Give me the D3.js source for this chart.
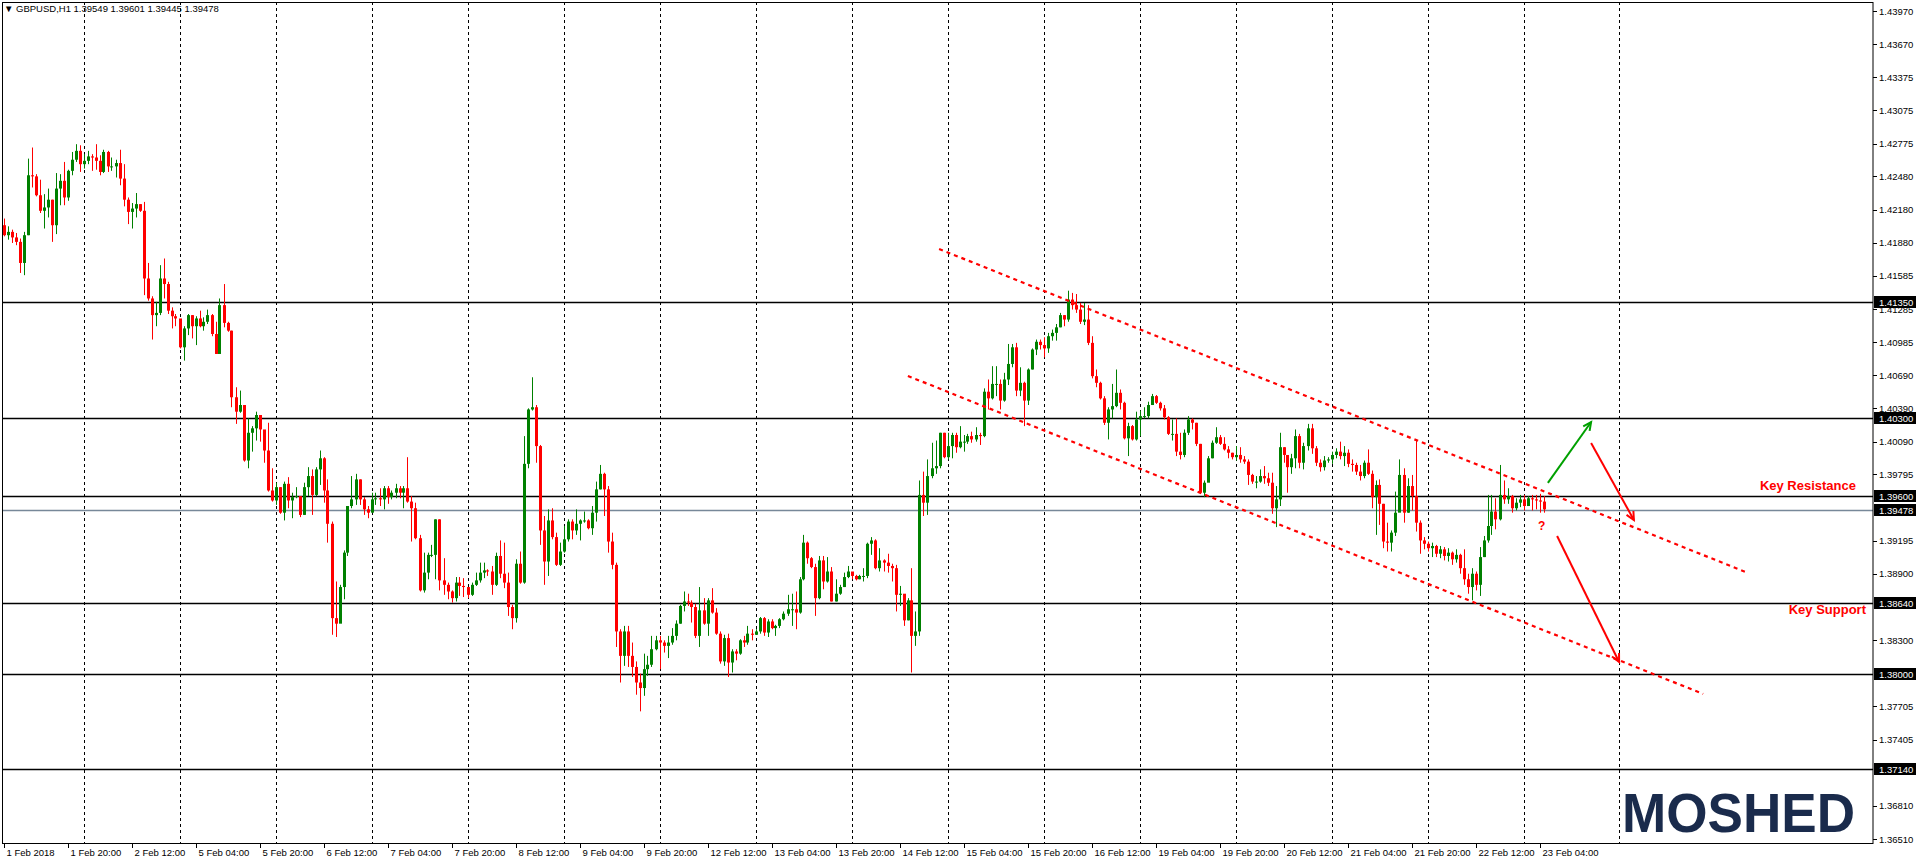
<!DOCTYPE html>
<html><head><meta charset="utf-8">
<script src="https://cdn.jsdelivr.net/npm/d3@7"></script>
<style>html,body{margin:0;padding:0;background:#fff;overflow:hidden}svg{display:block}</style>
</head><body>
<svg id="c" width="1916" height="860"></svg>
<script>
const firstOpen = 1.4204;
const closes = [
1.4195,1.4198,1.4193,1.4189,1.4170,1.4195,1.4249,1.4248,1.4231,1.4217,
1.4220,1.4227,1.4204,1.4237,1.4244,1.4229,1.4253,1.4263,1.4271,1.4259,
1.4262,1.4266,1.4265,1.4262,1.4252,1.4270,1.4257,1.4257,1.4260,1.4246,
1.4227,1.4216,1.4219,1.4223,1.4217,1.4156,1.4138,1.4123,1.4125,1.4156,
1.4151,1.4127,1.4122,1.4120,1.4094,1.4111,1.4123,1.4113,1.4120,1.4113,
1.4117,1.4123,1.4106,1.4088,1.4132,1.4116,1.4109,1.4049,1.4036,1.4042,
1.3992,1.4017,1.4021,1.4033,1.4020,1.4001,1.3965,1.3956,1.3968,1.3945,
1.3971,1.3956,1.3959,1.3960,1.3943,1.3968,1.3978,1.3961,1.3984,1.3994,
1.3965,1.3935,1.3850,1.3845,1.3878,1.3909,1.3951,1.3957,1.3975,1.3957,
1.3948,1.3945,1.3957,1.3958,1.3957,1.3967,1.3959,1.3963,1.3967,1.3963,
1.3967,1.3955,1.3949,1.3922,1.3875,1.3891,1.3907,1.3907,1.3939,1.3884,
1.3880,1.3874,1.3868,1.3882,1.3879,1.3878,1.3871,1.3880,1.3884,1.3891,
1.3893,1.3892,1.3880,1.3906,1.3890,1.3882,1.3860,1.3850,1.3899,1.3882,
1.3989,1.4038,1.4040,1.4005,1.3929,1.3901,1.3938,1.3923,1.3898,1.3910,
1.3921,1.3937,1.3929,1.3935,1.3938,1.3938,1.3931,1.3945,1.3966,1.3980,
1.3966,1.3919,1.3898,1.3838,1.3816,1.3838,1.3816,1.3806,1.3792,1.3787,
1.3804,1.3808,1.3822,1.3830,1.3828,1.3825,1.3828,1.3834,1.3845,1.3861,
1.3865,1.3864,1.3860,1.3834,1.3857,1.3845,1.3866,1.3855,1.3836,1.3811,
1.3832,1.3810,1.3820,1.3818,1.3830,1.3828,1.3836,1.3835,1.3838,1.3850,
1.3837,1.3847,1.3841,1.3843,1.3849,1.3854,1.3858,1.3858,1.3855,1.3885,
1.3918,1.3904,1.3896,1.3868,1.3902,1.3883,1.3892,1.3865,1.3872,1.3878,
1.3887,1.3892,1.3888,1.3885,1.3888,1.3888,1.3917,1.3920,1.3895,1.3902,
1.3900,1.3897,1.3895,1.3871,1.3872,1.3848,1.3866,1.3834,1.3838,1.3961,
1.3954,1.3978,1.3985,1.3987,1.4017,1.3995,1.4005,1.4015,1.4004,1.4009,
1.4009,1.4014,1.4011,1.4015,1.4014,1.4054,1.4048,1.4061,1.4061,1.4046,
1.4065,1.4079,1.4094,1.4055,1.4062,1.4046,1.4074,1.4092,1.4099,1.4096,
1.4093,1.4104,1.4107,1.4112,1.4123,1.4119,1.4137,1.4132,1.4128,1.4117,
1.4119,1.4098,1.4068,1.4062,1.4048,1.4026,1.4038,1.4041,1.4053,1.4044,
1.4012,1.4023,1.4011,1.4029,1.4032,1.4032,1.4042,1.4050,1.4044,1.4039,
1.4031,1.4016,1.4016,1.4000,1.3997,1.4017,1.4029,1.4026,1.4007,1.3963,
1.3972,1.3994,1.4008,1.4013,1.4007,1.4002,1.3999,1.3995,1.3997,1.3993,
1.3991,1.3979,1.3973,1.3973,1.3978,1.3976,1.3972,1.3949,1.3957,1.4004,
1.3997,1.3986,1.3994,1.4014,1.3990,1.4005,1.4021,1.4003,1.3990,1.3986,
1.3992,1.3993,1.3997,1.4000,1.3996,1.3999,1.3989,1.3988,1.3982,1.3978,
1.3990,1.3980,1.3959,1.3970,1.3953,1.3919,1.3918,1.3927,1.3945,1.3979,
1.3945,1.3969,1.3960,1.3936,1.3920,1.3917,1.3913,1.3915,1.3908,1.3912,
1.3906,1.3909,1.3903,1.3907,1.3895,1.3885,1.3878,1.3890,1.3880,1.3905,
1.3920,1.3933,1.3946,1.3939,1.3961,1.3957,1.3960,1.3949,1.3954,1.3957,
1.3951,1.3958,1.3957,1.3956,1.3955,1.3948];
const highs = [
1.4210,1.4203,1.4200,1.4197,1.4192,1.4198,1.4264,1.4274,1.4250,1.4245,
1.4232,1.4237,1.4227,1.4251,1.4250,1.4261,1.4254,1.4270,1.4277,1.4276,
1.4268,1.4271,1.4268,1.4277,1.4267,1.4272,1.4271,1.4265,1.4263,1.4272,
1.4259,1.4229,1.4224,1.4233,1.4223,1.4225,1.4170,1.4140,1.4135,1.4168,
1.4174,1.4153,1.4130,1.4124,1.4111,1.4113,1.4124,1.4123,1.4122,1.4127,
1.4121,1.4128,1.4124,1.4117,1.4138,1.4151,1.4117,1.4109,1.4058,1.4055,
1.4042,1.4030,1.4023,1.4036,1.4033,1.4019,1.4026,1.3985,1.3972,1.3968,
1.3973,1.3977,1.3963,1.3968,1.3960,1.3972,1.3986,1.3984,1.3986,1.4001,
1.3995,1.3975,1.3937,1.3883,1.3880,1.3911,1.3951,1.3978,1.3980,1.3975,
1.3959,1.3951,1.3963,1.3963,1.3967,1.3969,1.3969,1.3965,1.3971,1.3969,
1.3969,1.3995,1.3960,1.3954,1.3925,1.3909,1.3909,1.3916,1.3939,1.3939,
1.3904,1.3882,1.3875,1.3887,1.3887,1.3886,1.3877,1.3882,1.3891,1.3900,
1.3900,1.3894,1.3897,1.3909,1.3920,1.3918,1.3891,1.3862,1.3903,1.3910,
1.4014,1.4039,1.4067,1.4042,1.4006,1.3942,1.3948,1.3949,1.3927,1.3918,
1.3933,1.3939,1.3939,1.3948,1.3939,1.3946,1.3939,1.3951,1.3973,1.3988,
1.3981,1.3969,1.3927,1.3900,1.3840,1.3843,1.3843,1.3828,1.3811,1.3800,
1.3818,1.3816,1.3834,1.3834,1.3834,1.3830,1.3834,1.3841,1.3848,1.3862,
1.3874,1.3872,1.3866,1.3863,1.3878,1.3868,1.3868,1.3877,1.3859,1.3838,
1.3835,1.3836,1.3822,1.3822,1.3831,1.3834,1.3843,1.3840,1.3840,1.3851,
1.3851,1.3849,1.3849,1.3844,1.3850,1.3856,1.3871,1.3872,1.3874,1.3887,
1.3925,1.3919,1.3905,1.3899,1.3906,1.3906,1.3905,1.3896,1.3885,1.3880,
1.3891,1.3897,1.3891,1.3889,1.3889,1.3895,1.3918,1.3923,1.3921,1.3913,
1.3903,1.3908,1.3899,1.3898,1.3879,1.3866,1.3868,1.3895,1.3856,1.3974,
1.3982,1.3993,1.4008,1.4010,1.4017,1.4017,1.4017,1.4017,1.4017,1.4023,
1.4015,1.4016,1.4018,1.4022,1.4017,1.4057,1.4065,1.4077,1.4077,1.4065,
1.4071,1.4097,1.4097,1.4098,1.4076,1.4063,1.4075,1.4093,1.4101,1.4101,
1.4103,1.4107,1.4110,1.4115,1.4125,1.4123,1.4145,1.4143,1.4142,1.4134,
1.4134,1.4132,1.4104,1.4074,1.4063,1.4050,1.4040,1.4061,1.4074,1.4056,
1.4045,1.4026,1.4024,1.4036,1.4037,1.4040,1.4045,1.4052,1.4051,1.4045,
1.4042,1.4032,1.4029,1.4030,1.4017,1.4020,1.4032,1.4030,1.4026,1.4007,
1.3974,1.3996,1.4010,1.4022,1.4015,1.4013,1.4005,1.3999,1.4005,1.4004,
1.3996,1.3993,1.3980,1.3978,1.3984,1.3987,1.3981,1.3981,1.3969,1.4017,
1.4004,1.3993,1.3998,1.4020,1.4016,1.4008,1.4025,1.4025,1.4005,1.3993,
1.3996,1.3995,1.4000,1.4003,1.4009,1.4005,1.4002,1.3993,1.3990,1.3988,
1.3992,1.4002,1.3983,1.3974,1.3975,1.3953,1.3936,1.3929,1.3964,1.3993,
1.3985,1.3976,1.3979,1.4010,1.3938,1.3923,1.3919,1.3918,1.3916,1.3915,
1.3914,1.3913,1.3910,1.3912,1.3908,1.3912,1.3890,1.3895,1.3892,1.3914,
1.3924,1.3961,1.3961,1.3958,1.3988,1.3974,1.3967,1.3961,1.3958,1.3961,
1.3961,1.3960,1.3961,1.3961,1.3962,1.3960];
const lows = [
1.4194,1.4191,1.4188,1.4186,1.4161,1.4159,1.4195,1.4238,1.4230,1.4215,
1.4201,1.4211,1.4189,1.4196,1.4222,1.4222,1.4226,1.4249,1.4261,1.4252,
1.4255,1.4259,1.4253,1.4254,1.4249,1.4251,1.4252,1.4253,1.4247,1.4240,
1.4221,1.4205,1.4201,1.4211,1.4216,1.4141,1.4136,1.4101,1.4113,1.4123,
1.4138,1.4124,1.4111,1.4113,1.4093,1.4082,1.4105,1.4102,1.4096,1.4112,
1.4109,1.4115,1.4104,1.4088,1.4089,1.4112,1.4108,1.4040,1.4025,1.4035,
1.3991,1.3985,1.4000,1.4010,1.4009,1.3990,1.3964,1.3955,1.3952,1.3944,
1.3938,1.3949,1.3940,1.3958,1.3941,1.3943,1.3960,1.3943,1.3960,1.3970,
1.3954,1.3918,1.3835,1.3833,1.3850,1.3867,1.3906,1.3949,1.3952,1.3952,
1.3943,1.3940,1.3945,1.3952,1.3951,1.3948,1.3953,1.3957,1.3958,1.3958,
1.3949,1.3954,1.3919,1.3921,1.3874,1.3873,1.3885,1.3905,1.3885,1.3875,
1.3871,1.3867,1.3864,1.3865,1.3870,1.3869,1.3868,1.3870,1.3879,1.3882,
1.3886,1.3888,1.3871,1.3879,1.3886,1.3877,1.3852,1.3840,1.3846,1.3881,
1.3881,1.3985,1.4037,1.3990,1.3916,1.3880,1.3888,1.3921,1.3897,1.3897,
1.3909,1.3919,1.3921,1.3925,1.3920,1.3936,1.3930,1.3925,1.3937,1.3966,
1.3942,1.3909,1.3894,1.3824,1.3792,1.3807,1.3806,1.3797,1.3781,1.3766,
1.3780,1.3798,1.3806,1.3821,1.3804,1.3819,1.3814,1.3826,1.3830,1.3845,
1.3856,1.3861,1.3846,1.3832,1.3824,1.3844,1.3834,1.3854,1.3835,1.3809,
1.3807,1.3797,1.3801,1.3812,1.3817,1.3824,1.3826,1.3830,1.3835,1.3836,
1.3834,1.3833,1.3840,1.3834,1.3841,1.3848,1.3852,1.3843,1.3840,1.3854,
1.3884,1.3899,1.3895,1.3852,1.3867,1.3876,1.3882,1.3865,1.3865,1.3871,
1.3878,1.3886,1.3885,1.3884,1.3885,1.3883,1.3886,1.3907,1.3894,1.3892,
1.3892,1.3891,1.3883,1.3856,1.3861,1.3843,1.3848,1.3801,1.3825,1.3834,
1.3942,1.3943,1.3976,1.3980,1.3985,1.3994,1.3993,1.3994,1.3999,1.4003,
1.4000,1.4007,1.4008,1.4009,1.4006,1.4013,1.4038,1.4047,1.4050,1.4038,
1.4045,1.4060,1.4076,1.4050,1.4050,1.4023,1.4042,1.4074,1.4087,1.4092,
1.4085,1.4089,1.4100,1.4100,1.4112,1.4113,1.4117,1.4128,1.4125,1.4115,
1.4114,1.4096,1.4066,1.4058,1.4047,1.4024,1.4011,1.4030,1.4040,1.4038,
1.4011,1.3996,1.4010,1.4010,1.4014,1.4030,1.4030,1.4042,1.4043,1.4037,
1.4029,1.4015,1.4010,1.3996,1.3993,1.3995,1.4015,1.4020,1.4005,1.3962,
1.3959,1.3986,1.3994,1.4007,1.4006,1.4001,1.3994,1.3993,1.3992,1.3990,
1.3989,1.3970,1.3971,1.3967,1.3972,1.3971,1.3969,1.3944,1.3932,1.3951,
1.3990,1.3963,1.3980,1.3985,1.3985,1.3984,1.4001,1.3998,1.3987,1.3982,
1.3983,1.3990,1.3989,1.3994,1.3993,1.3987,1.3986,1.3982,1.3979,1.3974,
1.3976,1.3979,1.3949,1.3925,1.3934,1.3913,1.3910,1.3910,1.3924,1.3947,
1.3936,1.3945,1.3947,1.3928,1.3908,1.3912,1.3910,1.3905,1.3905,1.3904,
1.3902,1.3901,1.3898,1.3900,1.3890,1.3880,1.3872,1.3866,1.3875,1.3870,
1.3905,1.3918,1.3925,1.3930,1.3938,1.3953,1.3953,1.3945,1.3947,1.3950,
1.3947,1.3952,1.3947,1.3948,1.3945,1.3945];
const timeLabels = ["1 Feb 2018","1 Feb 20:00","2 Feb 12:00","5 Feb 04:00","5 Feb 20:00","6 Feb 12:00","7 Feb 04:00","7 Feb 20:00","8 Feb 12:00","9 Feb 04:00","9 Feb 20:00","12 Feb 12:00","13 Feb 04:00","13 Feb 20:00","14 Feb 12:00","15 Feb 04:00","15 Feb 20:00","16 Feb 12:00","19 Feb 04:00","19 Feb 20:00","20 Feb 12:00","21 Feb 04:00","21 Feb 20:00","22 Feb 12:00","23 Feb 04:00"];
const priceTicks = [1.43970,1.43670,1.43375,1.43075,1.42775,1.42480,1.42180,1.41880,1.41585,1.41285,1.40985,1.40690,1.40390,1.40090,1.39795,1.39195,1.38900,1.38300,1.37705,1.37405,1.36810,1.36510];
const levels = [1.41350,1.40300,1.39600,1.38640,1.38000,1.37140];
const bidPrice = 1.39478;
const upperChannel = [[233.9,1.41826],[436.1,1.38907]];
const lowerChannel = [[226.1,1.40682],[424.9,1.37817]];
const greenArrow = [[386.1,1.39718],[396.9,1.40267]];
const redArrows = [[[396.9,1.40078],[407.6,1.39384]],[[388.4,1.39240],[403.9,1.38105]]];
const questionMark = [383.6,1.39331];

const svg = d3.select("#c");
const W = 1916, H = 860, axisX = 1873, plotTop = 2, plotBottom = 843;
const x = d3.scaleLinear().domain([0,385]).range([3.5,1543.5]);
const y = d3.scaleLinear().domain([1.4397,1.3651]).range([11,839]);
const F = "'Liberation Sans', Arial, sans-serif";
const FS = 9.5;

const gridIdx = d3.range(20, 405, 24);
svg.append("g").selectAll("line").data(gridIdx).join("line")
  .attr("x1",d=>Math.round(x(d))+0.5).attr("x2",d=>Math.round(x(d))+0.5)
  .attr("y1",plotTop).attr("y2",plotBottom)
  .attr("stroke","#000").attr("stroke-width",1).attr("stroke-dasharray","3,3");

svg.append("g").selectAll("line").data(levels).join("line")
  .attr("x1",2).attr("x2",axisX).attr("y1",d=>Math.round(y(d))+0.5).attr("y2",d=>Math.round(y(d))+0.5)
  .attr("stroke","#000").attr("stroke-width",1.3);
svg.append("line").attr("x1",2).attr("x2",axisX)
  .attr("y1",Math.round(y(bidPrice))+0.5).attr("y2",Math.round(y(bidPrice))+0.5)
  .attr("stroke","#778899").attr("stroke-width",1.3);

const data = closes.map((c,i)=>({i,o:i===0?firstOpen:closes[i-1],c,h:highs[i],l:lows[i]}));
const cg = svg.append("g");
cg.selectAll("line").data(data).join("line")
  .attr("x1",d=>Math.round(x(d.i))+0.5).attr("x2",d=>Math.round(x(d.i))+0.5)
  .attr("y1",d=>y(d.h)).attr("y2",d=>y(d.l))
  .attr("stroke",d=>d.c>=d.o?"#008000":"#ff0000").attr("stroke-width",1);
cg.selectAll("rect").data(data).join("rect")
  .attr("x",d=>Math.round(x(d.i))-1).attr("width",3)
  .attr("y",d=>y(Math.max(d.o,d.c))).attr("height",d=>Math.max(1,Math.abs(y(d.o)-y(d.c))))
  .attr("fill",d=>d.c>=d.o?"#008000":"#ff0000");

[upperChannel,lowerChannel].forEach(seg=>{
  svg.append("line").attr("x1",x(seg[0][0])).attr("y1",y(seg[0][1]))
    .attr("x2",x(seg[1][0])).attr("y2",y(seg[1][1]))
    .attr("stroke","#ff0000").attr("stroke-width",2.2).attr("stroke-dasharray","4,4");
});

function arrow(seg,color){
  const x1=x(seg[0][0]),y1=y(seg[0][1]),x2=x(seg[1][0]),y2=y(seg[1][1]);
  svg.append("line").attr("x1",x1).attr("y1",y1).attr("x2",x2).attr("y2",y2)
    .attr("stroke",color).attr("stroke-width",2);
  const a=Math.atan2(y2-y1,x2-x1), L=9, s=0.45;
  const p1=[x2-L*Math.cos(a-s),y2-L*Math.sin(a-s)], p2=[x2-L*Math.cos(a+s),y2-L*Math.sin(a+s)];
  svg.append("path").attr("d",`M${p1}L${x2},${y2}L${p2}`).attr("fill","none")
    .attr("stroke",color).attr("stroke-width",2);
}
arrow(greenArrow,"#00a000");
redArrows.forEach(s=>arrow(s,"#ff0000"));
svg.append("text").attr("x",x(questionMark[0])).attr("y",y(questionMark[1])+4)
  .attr("font-family",F).attr("font-weight","bold").attr("font-size",12).attr("fill","#ff0000").text("?");

svg.append("text").attr("x",1856).attr("y",490).attr("text-anchor","end")
  .attr("font-family",F).attr("font-weight","bold").attr("font-size",13).attr("fill","#ff0000").text("Key Resistance");
svg.append("text").attr("x",1866).attr("y",614).attr("text-anchor","end")
  .attr("font-family",F).attr("font-weight","bold").attr("font-size",13).attr("fill","#ff0000").text("Key Support");

svg.append("text").attr("x",1622).attr("y",832)
  .attr("font-family",F).attr("font-weight","bold")
  .attr("font-size",56).attr("fill","#1a2b4c")
  .attr("textLength",233).attr("lengthAdjust","spacingAndGlyphs").text("MOSHED");

svg.append("rect").attr("x",2.5).attr("y",plotTop+0.5).attr("width",axisX-2.5).attr("height",plotBottom-plotTop)
  .attr("fill","none").attr("stroke","#000").attr("stroke-width",1);

const pa = svg.append("g");
pa.selectAll("line").data(priceTicks).join("line")
  .attr("x1",axisX).attr("x2",axisX+4).attr("y1",d=>Math.round(y(d))+0.5).attr("y2",d=>Math.round(y(d))+0.5).attr("stroke","#000");
pa.selectAll("text").data(priceTicks).join("text")
  .attr("x",axisX+6).attr("y",d=>y(d)+3.5).attr("font-family",F).attr("font-size",FS).attr("fill","#000")
  .text(d=>d.toFixed(5));
levels.concat([bidPrice]).forEach(v=>{
  const yy=Math.round(y(v));
  pa.append("rect").attr("x",axisX+1).attr("y",yy-6).attr("width",W-axisX-1).attr("height",12).attr("fill","#000");
  pa.append("text").attr("x",axisX+6).attr("y",yy+3.5).attr("font-family",F).attr("font-size",FS).attr("fill","#fff").text(v.toFixed(5));
});

const ta = svg.append("g");
ta.selectAll("line").data(timeLabels).join("line")
  .attr("x1",(d,k)=>Math.round(x(k*16))+0.5).attr("x2",(d,k)=>Math.round(x(k*16))+0.5)
  .attr("y1",plotBottom).attr("y2",plotBottom+5).attr("stroke","#000");
ta.selectAll("text").data(timeLabels).join("text")
  .attr("x",(d,k)=>x(k*16)+3).attr("y",856).attr("font-family",F).attr("font-size",FS).attr("fill","#000")
  .text(d=>d);

svg.append("text").attr("x",4).attr("y",12).attr("font-family",F).attr("font-size",FS).attr("fill","#000")
  .text("\u25BC GBPUSD,H1  1.39549 1.39601 1.39445 1.39478");
</script>
</body></html>
